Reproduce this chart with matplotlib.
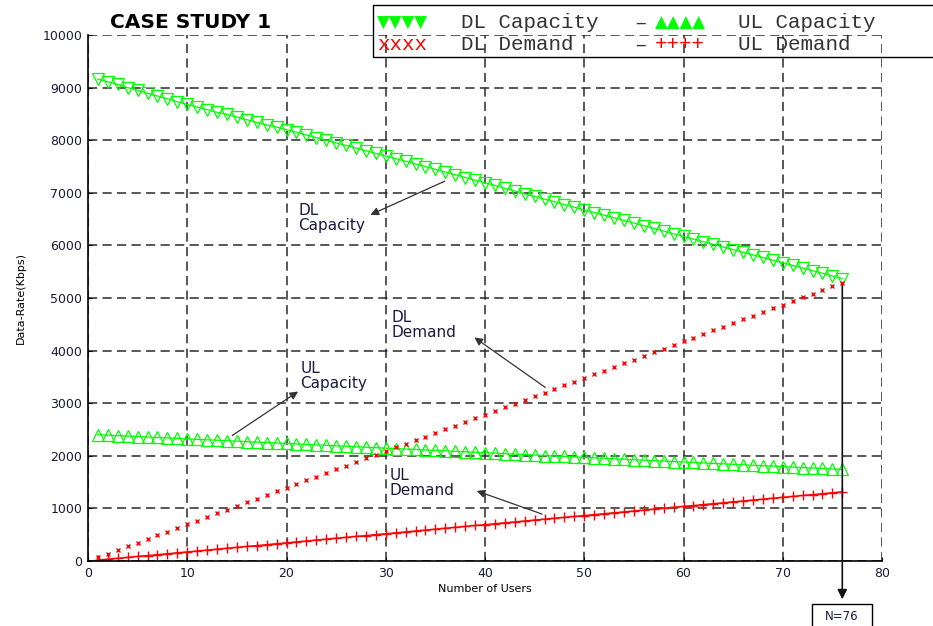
#!/usr/bin/env python3
"""Case study 1: DL/UL capacity vs demand as users are added."""

import matplotlib
matplotlib.use("Agg")
import matplotlib.pyplot as plt
import numpy as np
from matplotlib.patches import Rectangle

FIG_W, FIG_H = 933, 626

users = np.arange(1, 77)

dl_capacity = [
    9160, 9110, 9060, 9000, 8950, 8890, 8840, 8790, 8730, 8680,
    8630, 8580, 8530, 8490, 8440, 8390, 8340, 8290, 8250, 8200,
    8150, 8100, 8050, 8000, 7950, 7900, 7850, 7800, 7750, 7700,
    7650, 7600, 7550, 7500, 7445, 7395, 7345, 7290, 7240, 7190,
    7140, 7085, 7035, 6980, 6930, 6880, 6830, 6775, 6725, 6675,
    6625, 6575, 6525, 6475, 6425, 6375, 6325, 6270, 6220, 6170,
    6120, 6070, 6020, 5970, 5920, 5870, 5820, 5770, 5720, 5670,
    5620, 5570, 5520, 5470, 5420, 5370,
]

ul_capacity = [
    2400, 2392, 2384, 2375, 2366, 2357, 2348, 2340, 2331, 2322,
    2313, 2304, 2296, 2287, 2278, 2269, 2260, 2252, 2243, 2234,
    2225, 2216, 2208, 2199, 2190, 2181, 2172, 2164, 2155, 2146,
    2137, 2128, 2120, 2111, 2102, 2093, 2084, 2076, 2067, 2058,
    2049, 2040, 2032, 2023, 2014, 2005, 1996, 1988, 1979, 1970,
    1961, 1952, 1944, 1935, 1926, 1917, 1908, 1900, 1891, 1882,
    1873, 1864, 1856, 1847, 1838, 1829, 1820, 1812, 1803, 1794,
    1785, 1776, 1768, 1759, 1750, 1741,
]

dl_demand = [
    70, 139, 209, 278, 348, 418, 487, 557, 626, 696,
    766, 835, 905, 974, 1044, 1114, 1183, 1253, 1322, 1392,
    1462, 1531, 1601, 1670, 1740, 1810, 1879, 1949, 2018, 2088,
    2158, 2227, 2297, 2366, 2436, 2506, 2575, 2645, 2714, 2784,
    2854, 2923, 2993, 3062, 3132, 3202, 3271, 3341, 3410, 3480,
    3550, 3619, 3689, 3758, 3828, 3898, 3967, 4037, 4106, 4176,
    4246, 4315, 4385, 4454, 4524, 4594, 4663, 4733, 4802, 4872,
    4942, 5011, 5081, 5150, 5220, 5290,
]

ul_demand = [
    17, 35, 52, 69, 87, 104, 121, 138, 156, 173,
    190, 208, 225, 242, 260, 277, 294, 311, 329, 346,
    363, 381, 398, 415, 433, 450, 467, 484, 502, 519,
    536, 554, 571, 588, 606, 623, 640, 657, 675, 692,
    709, 727, 744, 761, 779, 796, 813, 830, 848, 865,
    882, 900, 917, 934, 952, 969, 986, 1003, 1021, 1038,
    1055, 1073, 1090, 1107, 1125, 1142, 1159, 1176, 1194, 1211,
    1228, 1246, 1263, 1280, 1298, 1315,
]

x_ticks = [0, 10, 20, 30, 40, 50, 60, 70, 80]
y_ticks = [0, 1000, 2000, 3000, 4000, 5000, 6000, 7000, 8000, 9000, 10000]

GREEN = "#00ff00"
RED = "#ff0000"


def fx(px):
    return px / FIG_W


def fy(py):
    return 1 - py / FIG_H


fig = plt.figure(figsize=(FIG_W / 100, FIG_H / 100), dpi=100)
ax = fig.add_axes([fx(88), fy(561), fx(882) - fx(88), fy(35) - fy(561)])

ax.plot(users, dl_capacity, color=GREEN, lw=0.9, marker="v", ms=8,
        mfc="none", mec=GREEN, mew=0.9)
ax.plot(users, ul_capacity, color=GREEN, lw=0.9, marker="^", ms=8,
        mfc="none", mec=GREEN, mew=0.9)
ax.plot(users, dl_demand, color=RED, lw=0, marker="x", ms=3.5, mew=1.0)
ax.plot(users, ul_demand, color=RED, lw=1.0, marker="+", ms=7, mew=1.0)

ax.set_xlim(0, 80)
ax.set_ylim(0, 10000)
ax.set_xticks(x_ticks)
ax.set_yticks(y_ticks)
ax.tick_params(direction="in", length=3, labelsize=9, labelcolor="#1a1a33", pad=4)
ax.grid(True, color="#2a2a2a", linestyle=(0, (6, 3.5)), linewidth=1.1)
for side in ("top", "right"):
    ax.spines[side].set_visible(False)
for side in ("left", "bottom"):
    ax.spines[side].set_linewidth(1.2)

ax.set_xlabel("Number of Users", fontsize=8, labelpad=3)
ax.set_ylabel("Data-Rate(Kbps)", fontsize=8, labelpad=12)

fig.text(fx(110), fy(22), "CASE STUDY 1", fontsize=14.5, fontweight="bold",
         ha="left", va="center")

# curve labels with arrows
labels = [
    ("DL\nCapacity", (21.2, 6530), (36.2, 7243), (28.2, 6560)),
    ("DL\nDemand", (30.6, 4490), (46.3, 3270), (38.7, 4280)),
    ("UL\nCapacity", (21.4, 3520), (14.3, 2357), (21.4, 3251)),
    ("UL\nDemand", (30.4, 1490), (46.0, 875), (38.9, 1350)),
]
for text, pos, tail, head in labels:
    ax.text(pos[0], pos[1], text, fontsize=11, ha="left", va="center",
            color="#1a1a40", linespacing=1.0)
    ax.annotate("", xy=head, xytext=tail,
                arrowprops=dict(arrowstyle="-|>", color="#333333", lw=0.9,
                                mutation_scale=12))

# N=76 marker
ax.annotate("", xy=(76, -780), xytext=(76, 5285), annotation_clip=False,
            arrowprops=dict(arrowstyle="-|>", color="#111111", lw=1.2,
                            mutation_scale=14))
fig.patches.append(Rectangle((fx(812), fy(630)), fx(872) - fx(812), fy(604) - fy(630),
                             transform=fig.transFigure, fc="white",
                             ec="black", lw=1.0))
fig.text(fx(842), fy(616), "N=76", fontsize=8.5, ha="center", va="center",
         color="#1a1a40")

# text legend box in the top right
fig.patches.append(Rectangle((fx(373), fy(57)), fx(700), fy(5) - fy(57),
                             transform=fig.transFigure, fill=False,
                             ec="black", lw=1.0))
mono = "Liberation Mono"
row1, row2 = fy(23), fy(45)
fig.text(fx(377), row1, "▼▼▼▼", color=GREEN, fontsize=12, va="center")
fig.text(fx(461), row1, "DL Capacity", family=mono, fontsize=15, va="center", color="#333333")
fig.text(fx(634), row1, "–", family=mono, fontsize=15, va="center", color="#333333")
fig.text(fx(655), row1, "▲▲▲▲", color=GREEN, fontsize=12, va="center")
fig.text(fx(738), row1, "UL Capacity", family=mono, fontsize=15, va="center", color="#333333")
fig.text(fx(377), row2, "xxxx", color=RED, family=mono, fontsize=15, va="center")
fig.text(fx(461), row2, "DL Demand", family=mono, fontsize=15, va="center", color="#333333")
fig.text(fx(634), row2, "–", family=mono, fontsize=15, va="center", color="#333333")
fig.text(fx(655), row2, "++++", color=RED, family=mono, fontsize=15, va="center")
fig.text(fx(738), row2, "UL Demand", family=mono, fontsize=15, va="center", color="#333333")

fig.savefig("out.png", dpi=100)
plt.close(fig)
